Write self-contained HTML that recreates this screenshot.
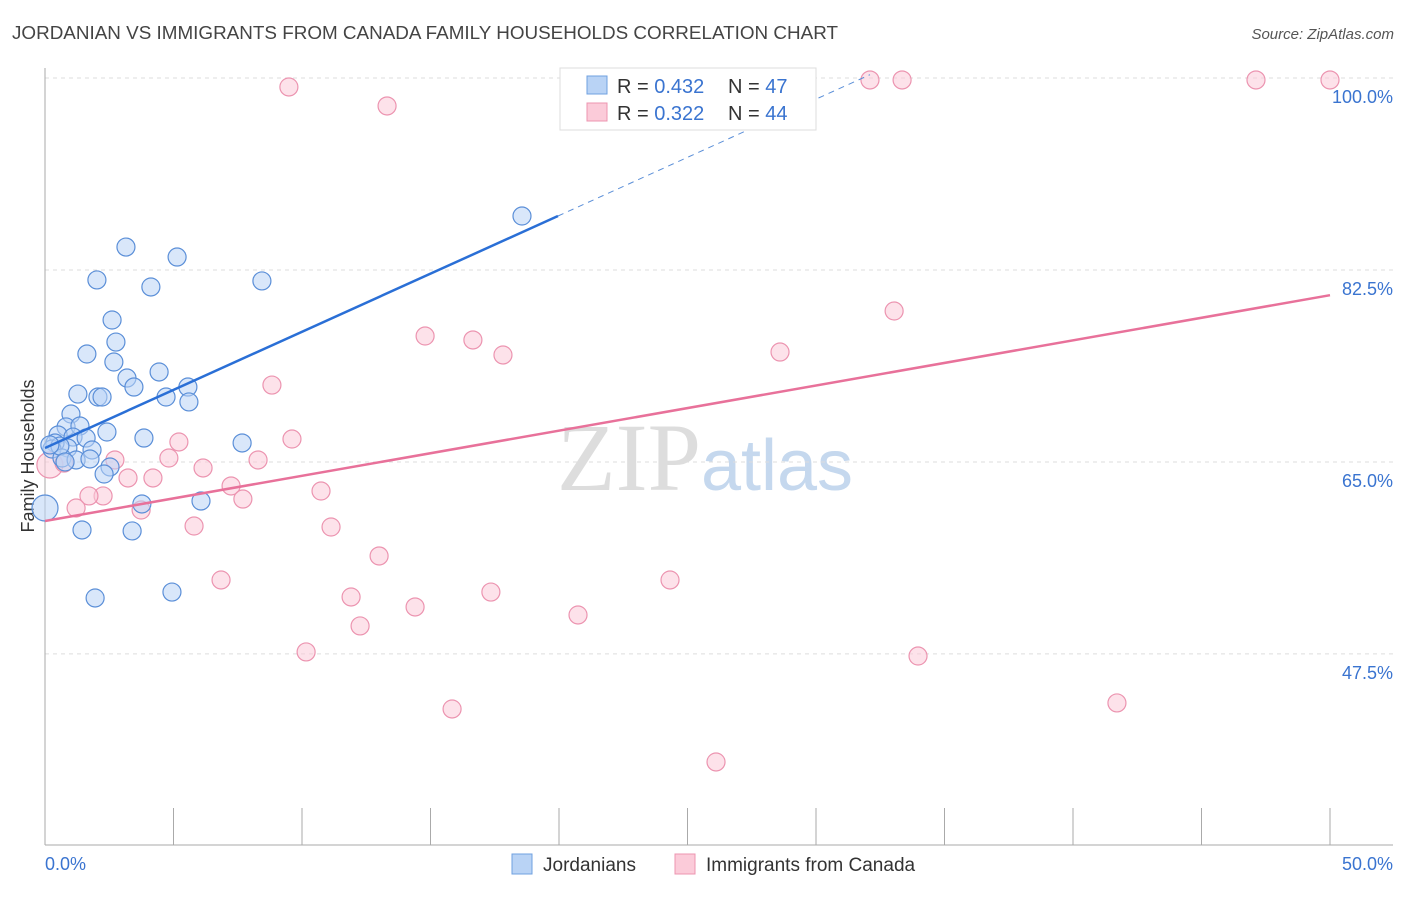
<!DOCTYPE html>
<html><head><meta charset="utf-8"><style>
body{margin:0;background:#fff;font-family:"Liberation Sans",sans-serif;}
</style></head><body>
<svg id="chart" width="1406" height="892" xmlns="http://www.w3.org/2000/svg" font-family="Liberation Sans, sans-serif">
<text x="12" y="39" font-size="18" fill="#444" textLength="826" lengthAdjust="spacingAndGlyphs">JORDANIAN VS IMMIGRANTS FROM CANADA FAMILY HOUSEHOLDS CORRELATION CHART</text>
<text x="1394" y="39" font-size="15" fill="#555" text-anchor="end" font-style="italic">Source: ZipAtlas.com</text>
<text x="705" y="490" font-size="96" fill="#ddd" text-anchor="middle" font-family="Liberation Serif, serif">ZIP<tspan fill="#c5d8ee" font-family="Liberation Sans, sans-serif" font-size="72">atlas</tspan></text>
<text transform="translate(34,456) rotate(-90)" font-size="18" fill="#333" text-anchor="middle">Family Households</text>
<g id="grid"></g><g id="axes"></g><g id="marks"></g>
<g>
<rect x="560" y="68" width="256" height="62" fill="#fff" stroke="#ddd"/>
<rect x="587" y="76" width="20" height="18" fill="#b9d3f5" stroke="#6fa0e0"/>
<text x="617" y="93" font-size="20" fill="#333">R = <tspan fill="#3a74d0">0.432</tspan></text>
<text x="728" y="93" font-size="20" fill="#333">N = <tspan fill="#3a74d0">47</tspan></text>
<rect x="587" y="103" width="20" height="18" fill="#fbcbd9" stroke="#ec94b0"/>
<text x="617" y="120" font-size="20" fill="#333">R = <tspan fill="#3a74d0">0.322</tspan></text>
<text x="728" y="120" font-size="20" fill="#333">N = <tspan fill="#3a74d0">44</tspan></text>
</g>
<g>
<rect x="512" y="854" width="20" height="20" fill="#b9d3f5" stroke="#6fa0e0"/>
<text x="543" y="871" font-size="19" fill="#333">Jordanians</text>
<rect x="675" y="854" width="20" height="20" fill="#fbcbd9" stroke="#ec94b0"/>
<text x="706" y="871" font-size="19" fill="#333">Immigrants from Canada</text>
</g>
</svg>
<script>
const yTicks=[100,82.5,65,47.5];
const yTickLabels=["100.0%","82.5%","65.0%","47.5%"];
const xTickVals=[0,5,10,15,20,25,30,35,40,45,50];
const blueX=[18.56,3.15,5.14,2.02,4.12,8.44,2.61,2.76,1.63,2.68,4.44,3.19,3.46,5.56,1.28,2.06,2.22,4.71,5.6,1.01,2.41,0.82,1.36,0.51,1.09,1.6,3.85,7.67,1.83,0.89,0.39,0.27,0.66,1.21,1.75,2.53,2.3,3.77,6.07,0,1.44,3.39,1.95,4.94,0.58,0.19,0.78];
const blueY=[87.42,84.59,83.68,81.59,80.95,81.5,77.94,75.93,74.84,74.11,73.2,72.65,71.83,71.83,71.19,70.92,70.92,70.92,70.47,69.37,67.73,68.19,68.28,67.46,67.27,67.18,67.18,66.73,66.09,66.27,66.73,66.18,65.36,65.18,65.27,64.54,63.9,61.17,61.44,60.8,58.8,58.71,52.6,53.14,66.45,66.55,65.0];
const pinkX=[9.49,13.31,32.1,33.35,47.12,50,14.79,16.65,17.82,28.6,33.04,8.83,9.61,5.21,4.82,2.72,6.15,8.29,3.23,4.2,7.24,10.74,7.7,2.26,1.71,1.21,3.74,5.8,11.13,13.0,6.85,24.32,17.35,11.91,14.4,20.74,12.26,10.16,33.97,41.71,15.84,26.11,0.19,0.74];
const pinkY=[99.18,97.45,99.82,99.82,99.82,99.82,76.48,76.12,74.75,75.02,78.76,72.01,67.09,66.82,65.36,65.18,64.45,65.18,63.54,63.54,62.81,62.35,61.62,61.9,61.9,60.8,60.62,59.16,59.07,56.43,54.24,54.24,53.14,52.69,51.78,51.05,50.05,47.68,47.31,43.03,42.48,37.65,64.72,64.9];
const blueTrend=[0,66.27,19.96,87.42,32.1,100.3];
const pinkTrend=[0,59.62,50,80.2];
const NS="http://www.w3.org/2000/svg";
const X=v=>45+v/50*1285, Y=v=>78+(100-v)*10.97;
function mk(t,a,p){const e=document.createElementNS(NS,t);for(const k in a)e.setAttribute(k,a[k]);p.appendChild(e);return e;}
const grid=document.getElementById('grid'),axes=document.getElementById('axes'),marks=document.getElementById('marks');
yTicks.forEach((v,i)=>{
 const l=mk('line',{x1:45,x2:1393,y1:Y(v),y2:Y(v),stroke:'#ddd','stroke-dasharray':'4,4'},grid);
 
 
 const t=mk('text',{x:1393,y:Y(v)+25,'font-size':18,fill:'#3a74d0','text-anchor':'end'},grid);
 t.textContent=yTickLabels[i];
 
 
});
mk('line',{x1:45,x2:45,y1:68,y2:845,stroke:'#aaa'},axes);
mk('line',{x1:45,x2:1393,y1:845,y2:845,stroke:'#aaa'},axes);
xTickVals.forEach(v=>{const t=mk('line',{x1:X(v),x2:X(v),y1:808,y2:845,stroke:'#aaa'},axes);
 
 });
let t0=mk('text',{x:45,y:870,'font-size':18,fill:'#3a74d0'},axes);t0.textContent="0.0%";


let t1=mk('text',{x:1393,y:870,'font-size':18,fill:'#3a74d0','text-anchor':'end'},axes);t1.textContent="50.0%";


function dots(xs,ys,fill,stroke,name){xs.forEach((x,i)=>{const r=(x===0||(x<0.3&&name==='pink-point'))?13:9;
 const c=mk('circle',{cx:X(x),cy:Y(ys[i]),r:r,fill:fill,'fill-opacity':0.55,stroke:stroke,'stroke-width':1.2},marks);
 
 });}
dots(pinkX,pinkY,'#fbcbd9','#ec94b0','pink-point');
dots(blueX,blueY,'#b9d3f5','#5b8fd8','blue-point');
let bl=mk('line',{x1:X(blueTrend[0]),y1:Y(blueTrend[1]),x2:X(blueTrend[2]),y2:Y(blueTrend[3]),stroke:'#2a6fd6','stroke-width':2.5},marks);


let bd=mk('line',{x1:X(blueTrend[2]),y1:Y(blueTrend[3]),x2:X(blueTrend[4]),y2:Y(blueTrend[5]),stroke:'#5b8fd8','stroke-width':1,'stroke-dasharray':'6,5'},marks);


let pl=mk('line',{x1:X(pinkTrend[0]),y1:Y(pinkTrend[1]),x2:X(pinkTrend[2]),y2:Y(pinkTrend[3]),stroke:'#e8719a','stroke-width':2.5},marks);


</script>
</body></html>
